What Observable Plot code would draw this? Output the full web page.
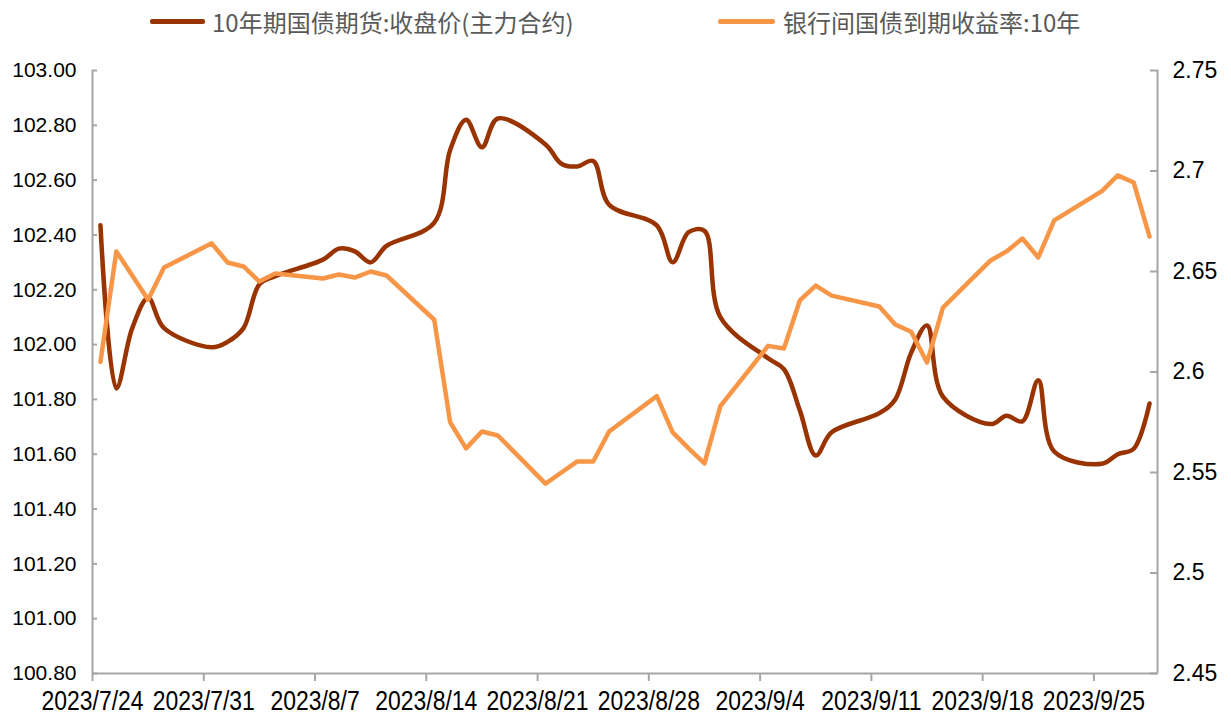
<!DOCTYPE html>
<html>
<head>
<meta charset="utf-8">
<script src="https://cdn.jsdelivr.net/npm/d3@7"></script>
<script src="https://cdn.jsdelivr.net/npm/@observablehq/plot@0.6"></script>
<style>
  html, body { margin: 0; padding: 0; background: #fff; }
  #wrap { width: 1231px; height: 716px; position: relative; overflow: hidden; }
  #legend { position: relative; width: 1231px; height: 44px; font-family: "Noto Sans CJK SC", sans-serif; font-size: 24px; color: #595959; }
  .sw { position: absolute; top: 19px; height: 5px; border-radius: 2px; }
  .lt { position: absolute; top: 5px; line-height: 34px; white-space: nowrap; }
  #chart svg { display: block; }
</style>
</head>
<body>
<div id="wrap">
  <div id="legend"></div>
  <div id="chart"></div>
</div>
<script>
// ---- data ----
const dates = ["2023/7/24","2023/7/25","2023/7/26","2023/7/27","2023/7/28",
  "2023/7/31","2023/8/1","2023/8/2","2023/8/3","2023/8/4",
  "2023/8/7","2023/8/8","2023/8/9","2023/8/10","2023/8/11",
  "2023/8/14","2023/8/15","2023/8/16","2023/8/17","2023/8/18",
  "2023/8/21","2023/8/22","2023/8/23","2023/8/24","2023/8/25",
  "2023/8/28","2023/8/29","2023/8/30","2023/8/31","2023/9/1",
  "2023/9/4","2023/9/5","2023/9/6","2023/9/7","2023/9/8",
  "2023/9/11","2023/9/12","2023/9/13","2023/9/14","2023/9/15",
  "2023/9/18","2023/9/19","2023/9/20","2023/9/21","2023/9/22",
  "2023/9/25","2023/9/26","2023/9/27","2023/9/28"];
const futuresClose = [102.435,101.84,102.06,102.17,102.06,
  101.99,102.01,102.06,102.22,102.25,
  102.31,102.35,102.34,102.30,102.36,
  102.445,102.71,102.82,102.72,102.825,
  102.73,102.66,102.65,102.67,102.51,
  102.435,102.30,102.41,102.415,102.10,
  101.95,101.91,101.76,101.595,101.68,
  101.75,101.80,101.97,102.07,101.81,
  101.71,101.74,101.72,101.87,101.61,
  101.565,101.60,101.62,101.785];
const yield10y = [2.605,2.660,2.648,2.636,2.652,
  2.664,2.6545,2.6525,2.645,2.649,
  2.6465,2.6485,2.647,2.650,2.648,
  2.626,2.575,2.562,2.5704,2.5684,
  2.5445,2.550,2.5555,2.5555,2.5704,
  2.588,2.570,2.562,2.5545,2.583,
  2.613,2.6117,2.6356,2.643,2.638,
  2.6326,2.6236,2.620,2.6047,2.632,
  2.6555,2.660,2.6664,2.657,2.6754,
  2.690,2.6978,2.6943,2.6674];
const xTickLabels = ["2023/7/24","2023/7/31","2023/8/7","2023/8/14","2023/8/21",
  "2023/8/28","2023/9/4","2023/9/11","2023/9/18","2023/9/25"];
const xRange = ["2023/7/24","2023/9/29"];
const leftTicks = [100.8,101.0,101.2,101.4,101.6,101.8,102.0,102.2,102.4,102.6,102.8,103.0];
const rightTicks = [2.45,2.50,2.55,2.60,2.65,2.70,2.75];
const seriesNames = ["10年期国债期货:收盘价(主力合约)", "银行间国债到期收益率:10年"];
const seriesColors = ["#993300", "#f79646"];

// ---- helpers ----
const dayStart = s => { const [y,m,d] = s.split("/").map(Number); return new Date(Date.UTC(y, m-1, d)); };
const dayMid = s => { const [y,m,d] = s.split("/").map(Number); return new Date(Date.UTC(y, m-1, d, 12)); };
const L0 = leftTicks[0], L1 = leftTicks[leftTicks.length-1];
const R0 = rightTicks[0], R1 = rightTicks[rightTicks.length-1];
const toLeft = v => L0 + (v - R0) * (L1 - L0) / (R1 - R0);
const fromLeft = v => R0 + (v - L0) * (R1 - R0) / (L1 - L0);

const futData = dates.map((s,i) => ({date: dayMid(s), v: futuresClose[i]}));
const yldData = dates.map((s,i) => ({date: dayMid(s), v: yield10y[i]}));
const xDomain = xRange.map(dayStart);
const xTicks = xTickLabels.map(dayStart);

// ---- legend ----
const legend = document.getElementById("legend");
const legendPos = [[150, 55, 212], [718, 57, 783]];
seriesNames.forEach((name, i) => {
  const [sx, sw, tx] = legendPos[i];
  const s = document.createElement("div");
  s.className = "sw"; s.style.left = sx + "px"; s.style.width = sw + "px"; s.style.background = seriesColors[i];
  const t = document.createElement("div");
  t.className = "lt"; t.style.left = tx + "px"; t.textContent = name;
  legend.appendChild(s); legend.appendChild(t);
});

// ---- chart ----
const axisGray = "#a6a6a6";
const chart = Plot.plot({
  width: 1231,
  height: 672,
  marginTop: 26,
  marginBottom: 43,
  marginLeft: 92,
  marginRight: 74,
  style: {background: "#fff", fontFamily: "'Liberation Sans', Arial, sans-serif", overflow: "visible"},
  x: {type: "utc", domain: xDomain},
  y: {domain: [L0, L1]},
  marks: [
    Plot.ruleX([xDomain[0]], {stroke: axisGray, strokeWidth: 2}),
    Plot.ruleX([xDomain[1]], {stroke: axisGray, strokeWidth: 2}),
    Plot.ruleY([L0], {stroke: axisGray, strokeWidth: 2}),
    Plot.axisY(leftTicks, {anchor: "left", tickFormat: d3.format(".2f"), tickSize: -5, tickPadding: 21,
      stroke: axisGray, strokeWidth: 2, fill: "#000", fontSize: 21, label: null}),
    Plot.axisY(rightTicks.map(toLeft), {anchor: "right", tickFormat: d => String(+fromLeft(d).toFixed(2)),
      tickSize: -8, tickPadding: 23, stroke: axisGray, strokeWidth: 2, fill: "#000", fontSize: 23, label: null}),
    Plot.axisX(xTicks, {anchor: "bottom", tickFormat: (d, i) => xTickLabels[i], tickSize: 8, tickPadding: 9,
      stroke: axisGray, strokeWidth: 2, fill: "#000", fontSize: 27, label: null}),
    Plot.line(futData, {x: "date", y: "v", stroke: seriesColors[0], strokeWidth: 4.5, curve: "catmull-rom"}),
    Plot.line(yldData, {x: "date", y: d => toLeft(d.v), stroke: seriesColors[1], strokeWidth: 4.5, strokeLinejoin: "round"})
  ]
});
document.getElementById("chart").appendChild(chart);

// condense the date labels horizontally, like the narrow font of the original
chart.querySelectorAll('g[aria-label="x-axis tick label"] text').forEach(t => {
  const w = t.getComputedTextLength();
  t.setAttribute("textLength", (w * 0.85).toFixed(1));
  t.setAttribute("lengthAdjust", "spacingAndGlyphs");
});
</script>
</body>
</html>
